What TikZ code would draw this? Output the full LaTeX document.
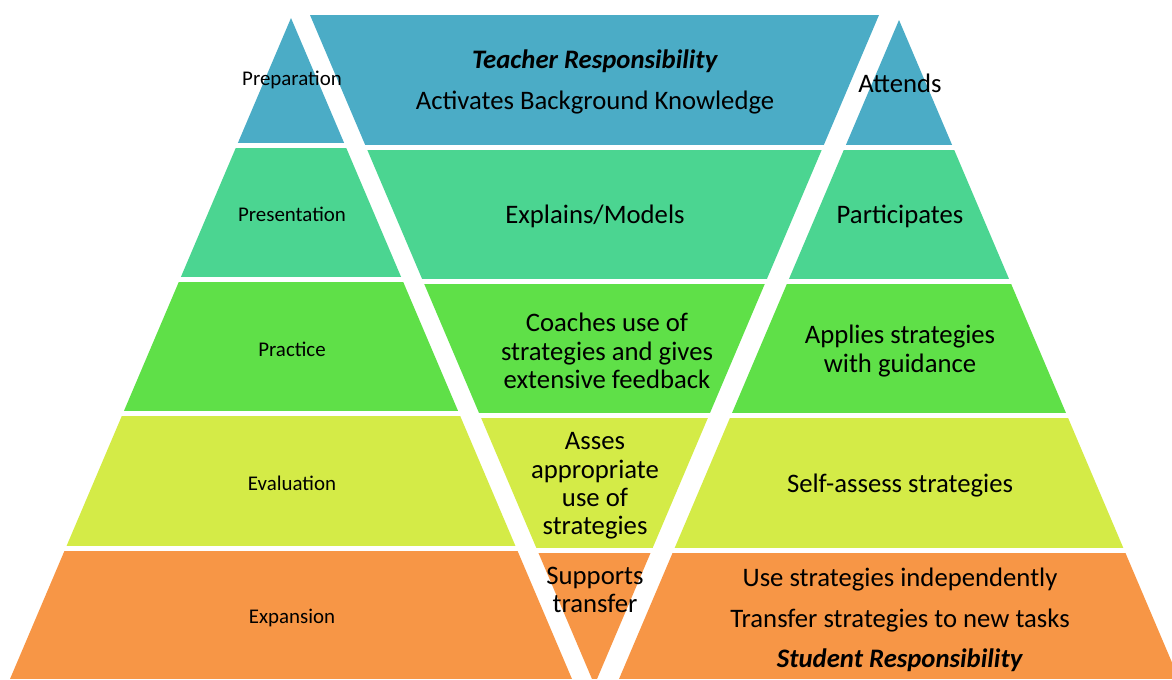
\documentclass[tikz,border=0pt]{standalone}
\usepackage{fontspec}
\setmainfont{Carlito}
\usepackage{tikz}
\usetikzlibrary{calc}

\definecolor{prepblue}{RGB}{75,172,198}
\definecolor{presgreen}{RGB}{75,213,145}
\definecolor{pracgreen}{RGB}{95,224,72}
\definecolor{evalyellow}{RGB}{212,235,71}
\definecolor{expaorange}{RGB}{247,150,70}

\tikzset{
	stage/.style={font=\fontsize{11.9}{14}\selectfont, align=center},
	role/.style={font=\fontsize{15.2}{16.2}\selectfont, align=center},
}

\begin{document}
\begin{tikzpicture}[x=0.02cm,y=-0.02cm]

	\useasboundingbox (0,0) rectangle (1172,679);
	\clip (0,0) rectangle (1172,679);

	% left pyramid: stages

	\begin{scope}
		\clip (291,18) -- (10,679) -- (572,679) -- cycle;
		\foreach \t/\b/\c in {18/143/prepblue, 148/277/presgreen, 282/411/pracgreen, 416/546/evalyellow, 551/679/expaorange}
			\fill[\c] (0,\t) rectangle (1172,\b);
	\end{scope}

	% middle: teacher

	\begin{scope}
		\clip (310,15) -- (879,15) -- (597,679) -- (592,679) -- cycle;
		\foreach \t/\b/\c in {15/145/prepblue, 150/279/presgreen, 284/413/pracgreen, 418/548/evalyellow, 553/679/expaorange}
			\fill[\c] (0,\t) rectangle (1172,\b);
	\end{scope}

	% right pyramid: student

	\begin{scope}
		\clip (899,20) -- (1179,679) -- (619,679) -- cycle;
		\foreach \t/\b/\c in {20/145/prepblue, 150/279/presgreen, 284/413/pracgreen, 418/548/evalyellow, 553/679/expaorange}
			\fill[\c] (0,\t) rectangle (1172,\b);
	\end{scope}

	% stage names

	\node[stage] (prep) at (292,80) {Preparation};
	\node[stage] (pres) at (292,214) {Presentation};
	\node[stage] (prac) at (292,349) {Practice};
	\node[stage] (eval) at (292,483) {Evaluation};
	\node[stage] (expa) at (292,618) {Expansion};

	% teacher

	\node[role] (teacher) at (595,82) {\textbf{\textit{Teacher Responsibility}}\\[7pt]Activates Background Knowledge};
	\node[role] (explains) at (595,216) {Explains/Models};
	\node[role] (coaches) at (607,351) {Coaches use of\\strategies and gives\\extensive feedback};
	\node[role] (asses) at (595,486) {Asses\\appropriate\\use of\\strategies};
	\node[role] (supports) at (595,590) {Supports\\transfer};

	% student

	\node[role] (attends) at (900,83) {Attends};
	\node[role] (participates) at (900,216) {Participates};
	\node[role] (applies) at (900,351) {Applies strategies\\with guidance};
	\node[role] (selfassess) at (900,486) {Self-assess strategies};
	\node[role] (student) at (900,620) {Use strategies independently\\[6.8pt]Transfer strategies to new tasks\\[6.8pt]\textbf{\textit{Student Responsibility}}};

\end{tikzpicture}
\end{document}
